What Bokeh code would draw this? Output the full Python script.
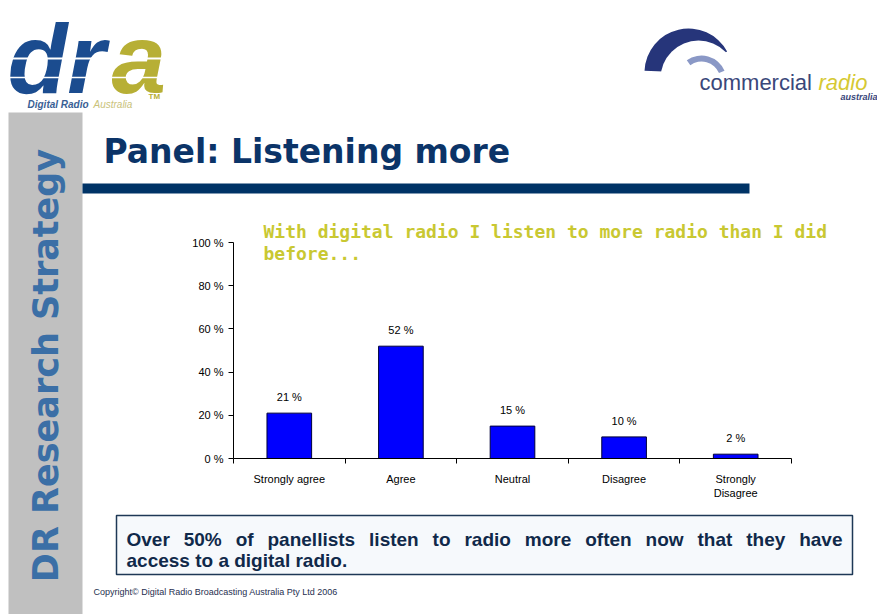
import math
from bokeh.plotting import figure
from bokeh.models import Range1d, LinearAxis, FixedTicker, ColumnDataSource
from bokeh.core.properties import value
from bokeh.embed import file_html
from bokeh.resources import INLINE

# ---------------- data ----------------
categories = ["Strongly agree", "Agree", "Neutral", "Disagree", "Strongly\nDisagree"]
percent = [21, 52, 15, 10, 2]
y_ticks = [0, 20, 40, 60, 80, 100]
y_tick_labels = ["0 %", "20 %", "40 %", "60 %", "80 %", "100 %"]
bar_labels = [f"{v} %" for v in percent]

chart_title_lines = ["With digital radio I listen to more radio than I did", "before..."]
slide_title = "Panel: Listening more"
side_text = "DR Research Strategy"
box_lines = ["Over 50% of panellists listen to radio more often now that they have",
             "access to a digital radio."]
copyright_text = "Copyright\u00a9 Digital Radio Broadcasting Australia Pty Ltd 2006"

# ---------------- layout constants (page pixels) ----------------
W, H = 877, 614
PL, PR, PT, PB = 233, 791, 242, 458   # chart plot area
ARIAL = value("Liberation Sans")
VERDANA = value("DejaVu Sans")
MONO = value("DejaVu Sans Mono")


def mid(baseline, size):
    """y for text_baseline='middle' that puts the alphabetic baseline at `baseline`."""
    return baseline - 0.35 * size


p = figure(width=W, height=H, x_range=Range1d(0, W), y_range=Range1d(H, 0),
           output_backend="svg", toolbar_location=None,
           x_axis_type=None, y_axis_type=None, min_border=0)
p.outline_line_color = None
p.background_fill_color = "white"
p.border_fill_color = "white"

n = len(categories)
ux = (PR - PL) / n
uy = (PB - PT) / 100.0
p.extra_x_ranges = {"cx": Range1d(-PL / ux, (W - PL) / ux)}
p.extra_y_ranges = {"cy": Range1d((PB - H) / uy, PB / uy)}

# ---------------- decorations ----------------
# grey side strip
p.quad(left=[8], right=[82], top=[112], bottom=[H], fill_color="#C0C0C0", line_color=None)
p.text(x=[45], y=[365], text=[side_text], angle=math.pi / 2, text_align="center",
       text_baseline="middle", text_font=VERDANA, text_font_style="bold",
       text_font_size="35px", text_color="#3B6FA6")

# slide title & rule
p.text(x=[103], y=[mid(163, 33)], text=[slide_title], text_font=VERDANA, text_font_style="bold",
       text_font_size="33px", text_color="#0B3468", text_baseline="middle")
p.quad(left=[82], right=[749], top=[183], bottom=[193], fill_color="#003366", line_color=None)

# DRA logo
LOGO_FS = 98
p.text(x=[7], y=[mid(93, LOGO_FS)], text=["dr"], text_font=ARIAL, text_font_style="bold italic",
       text_font_size=f"{LOGO_FS}px", text_color="#1B4C8F", text_baseline="middle")
p.text(x=[111], y=[mid(93, LOGO_FS)], text=["a"], text_font=ARIAL, text_font_style="bold italic",
       text_font_size=f"{LOGO_FS}px", text_color="#B7AF35", text_baseline="middle")
p.segment(x0=[4], y0=[58], x1=[172], y1=[58], line_color="white", line_width=2)
p.segment(x0=[4], y0=[77], x1=[172], y1=[77], line_color="white", line_width=1.5)
p.text(x=[27], y=[mid(107, 10)], text=["Digital Radio"], text_font=ARIAL,
       text_font_style="bold italic", text_font_size="10px", text_color="#3A5F95",
       text_baseline="middle")
p.text(x=[93], y=[mid(107, 10)], text=["Australia"], text_font=ARIAL, text_font_style="italic",
       text_font_size="10px", text_color="#C9C27A", text_baseline="middle")
p.text(x=[148], y=[mid(99, 8)], text=["TM"], text_font=ARIAL, text_font_style="bold",
       text_font_size="8px", text_color="#B7AF35", text_baseline="middle")

# commercial radio logo (swoosh)
p.wedge(x=[688], y=[72], radius=[44], start_angle=[0.5], end_angle=[3.1],
        fill_color="#26357A", line_color=None)
p.wedge(x=[698], y=[78], radius=[38], start_angle=[0.0], end_angle=[math.pi],
        fill_color="white", line_color=None)
p.annular_wedge(x=[701], y=[80], inner_radius=[19], outer_radius=[25],
                start_angle=[0.4], end_angle=[2.2], fill_color="#8A98C6", line_color=None)
p.text(x=[699], y=[mid(90, 22)], text=["commercial"], text_font=ARIAL,
       text_font_size="22px", text_color="#3A477A", text_baseline="middle")
p.text(x=[818], y=[mid(90, 22)], text=["radio"], text_font=ARIAL, text_font_style="italic",
       text_font_size="22px", text_color="#D6C933", text_baseline="middle")
p.text(x=[877], y=[mid(100, 9)], text=["australia"], text_font=ARIAL,
       text_font_style="bold italic", text_font_size="9px", text_color="#39467A",
       text_align="right", text_baseline="middle")

# chart title
p.text(x=[263, 263], y=[mid(237, 18), mid(259, 18)], text=chart_title_lines, text_font=MONO,
       text_font_style="bold", text_font_size="18px", text_color="#C9C832",
       text_baseline="middle")

# message box
p.quad(left=[116], right=[852], top=[515], bottom=[574], fill_color="#F6F9FC",
       line_color="#1E3856", line_width=1.5)

# justified first line (approximate Arial Bold advance widths, per 1000 em)
AW = {' ': 278, '%': 889, '.': 278, 'O': 778, 'a': 556, 'b': 611, 'c': 556, 'd': 611,
      'e': 556, 'f': 333, 'g': 611, 'h': 611, 'i': 278, 'j': 278, 'k': 556, 'l': 278,
      'm': 889, 'n': 611, 'o': 611, 'p': 611, 'q': 611, 'r': 389, 's': 556, 't': 333,
      'u': 611, 'v': 556, 'w': 778, 'x': 556, 'y': 556, 'z': 500}
BOX_FS = 19
TX0, TX1 = 126, 842


def tw(s):
    return sum(AW.get(ch, 556) for ch in s) / 1000.0 * BOX_FS


words = box_lines[0].split(" ")
gap = (TX1 - TX0 - sum(tw(w) for w in words)) / (len(words) - 1)
wx, cur = [], TX0
for w in words:
    wx.append(cur)
    cur += tw(w) + gap
p.text(x=wx, y=[mid(546, BOX_FS)] * len(words), text=words, text_font=ARIAL,
       text_font_style="bold", text_font_size=f"{BOX_FS}px", text_color="#10294A",
       text_baseline="middle")
p.text(x=[TX0], y=[mid(567, BOX_FS)], text=[box_lines[1]], text_font=ARIAL,
       text_font_style="bold", text_font_size=f"{BOX_FS}px", text_color="#10294A",
       text_baseline="middle")

# copyright
p.text(x=[93], y=[mid(595, 9)], text=[copyright_text], text_font=ARIAL, text_font_size="9px",
       text_color="#1F3050", text_baseline="middle")

# ---------------- chart ----------------
src = ColumnDataSource(dict(x=[i + 0.5 for i in range(n)], top=percent, label=bar_labels))
p.vbar(x="x", top="top", bottom=0, width=0.40, source=src, x_range_name="cx", y_range_name="cy",
       fill_color="#0000FF", line_color="#00003A", line_width=1)
p.text(x="x", y="top", text="label", source=src, x_range_name="cx", y_range_name="cy",
       text_align="center", text_baseline="bottom", y_offset=-10, text_font=ARIAL,
       text_font_size="11px", text_color="black")


def make_axis(**kw):
    ax = LinearAxis(x_range_name="cx", y_range_name="cy", fixed_location=0)
    ax.minor_tick_line_color = None
    ax.axis_line_color = "black"
    ax.major_tick_line_color = "black"
    ax.major_label_text_font = "Liberation Sans"
    ax.major_label_text_font_size = "11px"
    ax.major_label_text_color = "black"
    for k, v in kw.items():
        setattr(ax, k, v)
    return ax


xa = make_axis(bounds=(0, n), ticker=FixedTicker(ticks=list(range(n + 1))),
               major_tick_in=0, major_tick_out=5, major_label_text_color=None)
p.add_layout(xa, "below")

xl = make_axis(ticker=FixedTicker(ticks=[i + 0.5 for i in range(n)]),
               major_label_overrides={i + 0.5: c for i, c in enumerate(categories)},
               major_tick_in=0, major_tick_out=0, major_label_standoff=14,
               axis_line_color=None, major_tick_line_color=None)
p.add_layout(xl, "below")

ya = make_axis(bounds=(0, 100), ticker=FixedTicker(ticks=y_ticks),
               major_label_overrides=dict(zip(y_ticks, y_tick_labels)),
               major_tick_in=0, major_tick_out=5, major_label_standoff=5)
p.add_layout(ya, "left")

open("out.html", "w").write(file_html(p, INLINE))
